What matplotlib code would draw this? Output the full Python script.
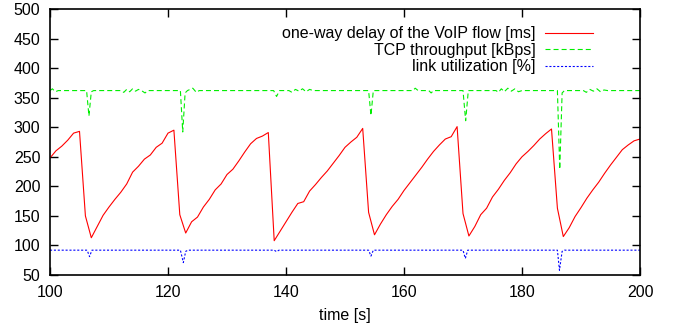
import matplotlib
matplotlib.use("Agg")
import matplotlib.pyplot as plt

plt.rcParams["font.family"] = ["Liberation Sans", "DejaVu Sans"]
plt.rcParams["lines.scale_dashes"] = False

# one-way delay of the VoIP flow, sampled once per second
delay_t = list(range(100, 201))
delay_ms = [
    248, 260, 268, 278, 290, 293, 150, 113, 132, 151,
    165, 178, 190, 204, 224, 234, 246, 253, 266, 273,
    290, 295, 152, 121, 140, 148, 165, 178, 194, 204,
    220, 229, 243, 258, 272, 281, 285, 291, 108, 124,
    140, 156, 171, 174, 192, 203, 215, 226, 239, 252,
    266, 275, 283, 298, 156, 118, 136, 152, 166, 178,
    193, 206, 219, 232, 246, 259, 270, 280, 284, 301,
    154, 116, 132, 152, 163, 182, 195, 210, 223, 238,
    250, 259, 269, 280, 289, 297, 163, 115, 130, 149,
    164, 180, 194, 207, 222, 236, 249, 262, 270, 277,
    280,
]

# TCP throughput [kBps]
tput_t = [
    100, 100.4, 100.9, 101.4,
    106.2, 106.6, 107.0, 107.4,
    112.0, 112.5, 113.0, 113.5, 114.0, 114.5, 115.0, 115.5, 116.1, 116.6,
    122.1, 122.5, 122.9, 123.3, 124.2, 124.8, 125.3,
    137.9, 138.4, 138.9,
    140.5, 141.0, 141.6, 142.2, 142.8, 143.4, 144.0, 144.6,
    154.0, 154.4, 154.8,
    161.5, 161.9, 162.4, 164.2, 164.6, 165.0,
    170.0, 170.45, 170.9,
    175.6, 176.0, 176.5, 177.0, 177.6, 178.2, 178.8, 179.4, 180.0,
    186.0, 186.4, 186.8, 187.2,
    190.4, 190.9, 191.5, 192.1, 192.7, 193.3, 193.9, 194.5,
    200,
]
tput_kbps = [
    362, 365, 360, 362,
    362, 319, 360, 362,
    362, 359, 364, 360, 365, 361, 364, 362, 358, 362,
    362, 292, 358, 362, 366, 359, 362,
    362, 352, 362,
    362, 359, 364, 361, 365, 360, 364, 362,
    362, 320, 362,
    362, 366, 362, 362, 358, 362,
    362, 311, 362,
    362, 359, 365, 360, 366, 361, 365, 360, 362,
    362, 229, 358, 362,
    362, 359, 364, 361, 365, 360, 363, 362,
    362,
]

# link utilization [%]
util_t = [
    100, 106.3, 106.7, 107.1,
    122.1, 122.6, 123.0, 123.4,
    138.0, 138.4, 138.8,
    154.0, 154.4, 154.8,
    170.0, 170.4, 170.8,
    186.0, 186.35, 186.8, 187.2,
    200,
]
util_pct = [
    92, 92, 81, 92,
    92, 71, 90, 92,
    92, 89.5, 92,
    92, 82, 92,
    92, 78, 92,
    92, 58, 90, 92,
    92,
]

fig = plt.figure(figsize=(6.8, 3.27), dpi=100)
ax = fig.add_axes([50 / 680, 1 - 275 / 327, 590 / 680, 266 / 327])

ax.plot(delay_t, delay_ms, color="#ff0000", lw=0.8,
        label="one-way delay of the VoIP flow [ms]")
ax.plot(tput_t, tput_kbps, color="#00ee00", lw=0.8,
        linestyle=(0, (3.6, 2.2)), label="TCP throughput [kBps]")
ax.plot(util_t, util_pct, color="#0000ff", lw=0.8,
        linestyle=(0, (1.5, 1.3)), label="link utilization [%]")

ax.set_xlim(100, 200)
ax.set_ylim(50, 500)
ax.set_xticks(range(100, 201, 20))
ax.set_yticks(range(50, 501, 50))
ax.tick_params(direction="in", length=6, width=1, top=True, right=True,
               labelsize=11.5, pad=7)
for side in ax.spines.values():
    side.set_linewidth(1.2)
ax.set_xlabel("time [s]", fontsize=11.5, labelpad=6)

ax.legend(loc="upper right", bbox_to_anchor=(0.92, 0.935), frameon=False,
          markerfirst=False, fontsize=11.5, handlelength=3.0,
          handletextpad=0.6, labelspacing=0.1, borderpad=0, borderaxespad=0)

fig.savefig("out.png", dpi=100)
